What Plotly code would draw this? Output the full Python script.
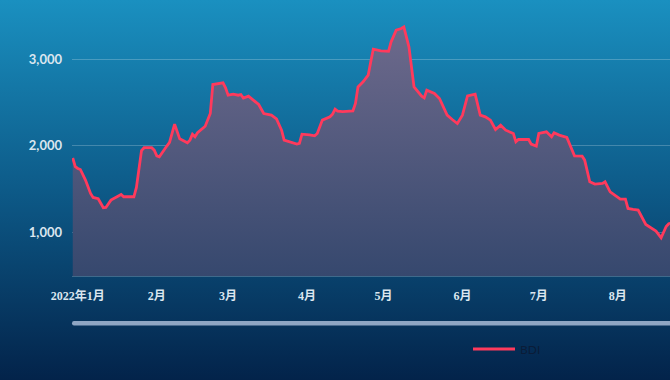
import base64
import plotly.graph_objects as go

# ---- data ----
dates = [
    "2021-12-30", "2021-12-31", "2022-01-01", "2022-01-02", "2022-01-04", "2022-01-06", "2022-01-07",
    "2022-01-09", "2022-01-11", "2022-01-12", "2022-01-14", "2022-01-17", "2022-01-18", "2022-01-19",
    "2022-01-23", "2022-01-24", "2022-01-26", "2022-01-27", "2022-01-30", "2022-01-31", "2022-02-01",
    "2022-02-02", "2022-02-04", "2022-02-05", "2022-02-06", "2022-02-08", "2022-02-10", "2022-02-13",
    "2022-02-14", "2022-02-15", "2022-02-16", "2022-02-17", "2022-02-20", "2022-02-22", "2022-02-23",
    "2022-02-25", "2022-02-27", "2022-02-28", "2022-03-01", "2022-03-03", "2022-03-05", "2022-03-06",
    "2022-03-07", "2022-03-09", "2022-03-11", "2022-03-13", "2022-03-15", "2022-03-18", "2022-03-20",
    "2022-03-22", "2022-03-23", "2022-03-25", "2022-03-28", "2022-03-29", "2022-03-30", "2022-04-02",
    "2022-04-04", "2022-04-05", "2022-04-07", "2022-04-10", "2022-04-11", "2022-04-12", "2022-04-13",
    "2022-04-15", "2022-04-19", "2022-04-20", "2022-04-21", "2022-04-23", "2022-04-25", "2022-04-26",
    "2022-04-27", "2022-04-30", "2022-05-03", "2022-05-04", "2022-05-06", "2022-05-08", "2022-05-09",
    "2022-05-11", "2022-05-13", "2022-05-16", "2022-05-17", "2022-05-18", "2022-05-21", "2022-05-23",
    "2022-05-26", "2022-05-28", "2022-05-30", "2022-06-01", "2022-06-03", "2022-06-06", "2022-06-08",
    "2022-06-10", "2022-06-12", "2022-06-14", "2022-06-16", "2022-06-18", "2022-06-21", "2022-06-22",
    "2022-06-23", "2022-06-27", "2022-06-28", "2022-06-30", "2022-07-01", "2022-07-04", "2022-07-06",
    "2022-07-07", "2022-07-09", "2022-07-12", "2022-07-15", "2022-07-18", "2022-07-19", "2022-07-21",
    "2022-07-23", "2022-07-26", "2022-07-27", "2022-07-29", "2022-08-01", "2022-08-02", "2022-08-04",
    "2022-08-05", "2022-08-07", "2022-08-09", "2022-08-12", "2022-08-14", "2022-08-16", "2022-08-18",
    "2022-08-20", "2022-08-21", "2022-08-23",
]
bdi = [
    1860, 1760, 1739, 1727, 1605, 1451, 1405,
    1390, 1286, 1290, 1374, 1420, 1440, 1413,
    1413, 1520, 1945, 1978, 1978, 1950, 1885,
    1873, 1965, 2000, 2040, 2250, 2080, 2035,
    2065, 2134, 2104, 2150, 2226, 2372, 2706,
    2718, 2725, 2668, 2583, 2595, 2583, 2591,
    2549, 2572, 2526, 2476, 2372, 2353, 2311,
    2180, 2065, 2050, 2019, 2027, 2134, 2127,
    2115, 2142, 2296, 2334, 2365, 2422, 2399,
    2395, 2403, 2488, 2679, 2737, 2814, 2967,
    3113, 3094, 3090, 3198, 3332, 3351, 3370,
    3140, 2679, 2572, 2553, 2641, 2603, 2545,
    2353, 2303, 2257, 2353, 2576, 2595, 2353,
    2334, 2296, 2188, 2238, 2180, 2142, 2046,
    2073, 2073, 2019, 1996, 2142, 2161, 2104,
    2150, 2123, 2096, 1885, 1881, 1835, 1585,
    1559, 1566, 1585, 1470, 1413, 1386, 1386,
    1278, 1267, 1259, 1094, 1056, 1017, 941,
    1071, 1102, 1120,
]
month_ticks = ["2022-01-01", "2022-02-01", "2022-03-01", "2022-04-01", "2022-05-01",
               "2022-06-01", "2022-07-01", "2022-08-01"]
month_labels = ["2022年1月", "2月", "3月", "4月", "5月", "6月", "7月", "8月"]
y_ticks = [1000, 2000, 3000]
y_labels = ["1,000", "2,000", "3,000"]
series_name = "BDI"

# ---- geometry ----
W, H = 670, 380
ML, MR, MT, MB = 72, 0, 0, 104
PW, PH = W - ML - MR, H - MT - MB

def px_to_paper_y(py):
    return 1 - (py - MT) / PH

# background gradient as svg image
svg = (
    '<svg xmlns="http://www.w3.org/2000/svg" width="670" height="380" preserveAspectRatio="none">'
    '<defs><linearGradient id="g" x1="0" y1="0" x2="0" y2="1">'
    '<stop offset="0" stop-color="#1a90c0"/>'
    '<stop offset="0.5" stop-color="#0d5a88"/>'
    '<stop offset="1" stop-color="#03234a"/>'
    '</linearGradient></defs>'
    '<rect width="670" height="380" fill="url(#g)"/></svg>'
)
bg_src = "data:image/svg+xml;base64," + base64.b64encode(svg.encode()).decode()

fig = go.Figure()
# area fill (no legend entry)
fig.add_trace(go.Scatter(
    x=dates, y=bdi, mode="none", showlegend=False,
    fill="tozeroy",
    fillgradient=dict(type="vertical",
                      colorscale=[[0, "#36486e"], [1, "#6e6a8c"]],
                      start=500, stop=3400),
    hoverinfo="skip",
))
# line
fig.add_trace(go.Scatter(
    x=dates, y=bdi, name=series_name, mode="lines",
    line=dict(color="#ff3a5c", width=2.8),
))

# scrollbar-like slider
x0 = 0.0
rx = 2 / PW
yt = px_to_paper_y(321)
yb = px_to_paper_y(325.5)
ym = (yt + yb) / 2
path = (f"M {x0+rx},{yt} L 1.01,{yt} L 1.01,{yb} L {x0+rx},{yb} "
        f"Q {x0},{yb} {x0},{ym} Q {x0},{yt} {x0+rx},{yt} Z")

fig.update_layout(
    width=W, height=H,
    margin=dict(l=ML, r=MR, t=MT, b=MB, pad=0),
    paper_bgcolor="#0b4a78",
    plot_bgcolor="rgba(0,0,0,0)",
    images=[dict(source=bg_src, xref="paper", yref="paper",
                 x=-ML / PW, y=1 + MT / PH, sizex=W / PW, sizey=H / PH,
                 xanchor="left", yanchor="top", sizing="stretch", layer="below")],
    shapes=[dict(type="path", path=path, xref="paper", yref="paper",
                 fillcolor="#8ea6c4", line=dict(width=0), layer="above")],
    xaxis=dict(
        type="date",
        range=["2021-12-29 17:00", "2022-08-21 12:00"],
        tickmode="array", tickvals=month_ticks, ticktext=month_labels,
        showgrid=False, zeroline=False,
        showline=True, linecolor="rgba(255,255,255,0.22)", linewidth=1,
        ticks="", ticklabelstandoff=9,
        tickfont=dict(family="Liberation Serif, Noto Sans CJK SC", size=12,
                      color="#dbe6ef", weight="bold"),
    ),
    yaxis=dict(
        range=[500, 3680],
        tickmode="array", tickvals=y_ticks, ticktext=y_labels,
        showgrid=True, gridcolor="rgba(255,255,255,0.22)", gridwidth=1,
        zeroline=False, showline=False, ticks="", ticklabelstandoff=9,
        tickfont=dict(family="Lato", size=13, color="#dbe6ef", weight="bold"),
    ),
    showlegend=True,
    legend=dict(orientation="h", x=(468 - ML) / PW, xanchor="left",
                y=px_to_paper_y(349), yanchor="middle",
                bgcolor="rgba(0,0,0,0)", itemwidth=42,
                font=dict(family="Lato", size=12, color="#0a1c38")),
)

fig.write_html("out.html",
               config={"displayModeBar": False},
               post_script="document.body.style.margin='0';document.body.style.overflow='hidden';")
